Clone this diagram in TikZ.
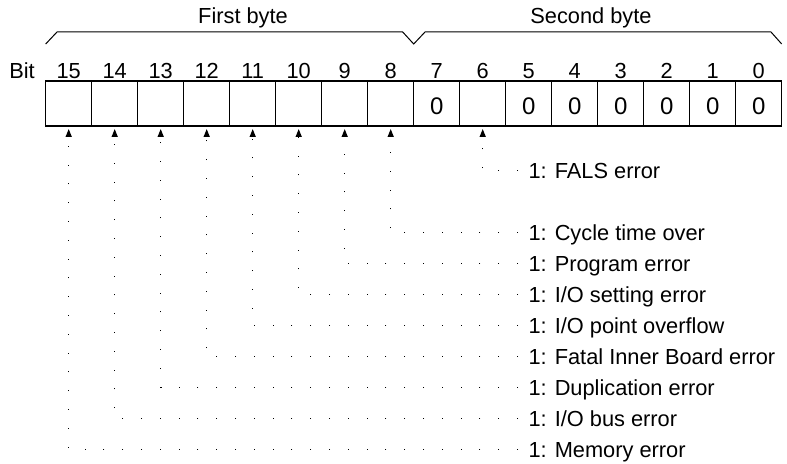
\documentclass[tikz,border=0pt]{standalone}
\usepackage{fontspec}
\setmainfont{Liberation Sans}
\usetikzlibrary{arrows.meta}

\begin{document}
\begin{tikzpicture}[x=.5pt,y=-.5pt,line width=.5pt,font=\fontsize{10.9}{13}\selectfont,
  bitbox/.style={draw,line width=.6pt,minimum width=23pt,minimum height=22.5pt,inner sep=0pt,font=\fontsize{12}{14}\selectfont,text height=11.4pt,text depth=0pt},
  num/.style={inner sep=0pt,text height=7.8pt,text depth=0pt},
  lbl/.style={anchor=west,inner xsep=5pt,inner ysep=0pt,text height=7.8pt,text depth=0pt},
  conn/.style={-{Triangle[length=4pt,width=3pt]},line width=.7pt,dash pattern=on .5pt off 8.9pt,shorten >=1.2pt}]
\useasboundingbox (0,0) rectangle (787,464);
\draw (45.7,44)--(57,32)--(402.7,32)--(413.7,44)--(425,32)--(771,32)--(781.7,44);
\node[num] (first) at (243,16) {First byte};
\node[num] (second) at (591,16) {Second byte};
\node[num] (bit) at (22,70.5) {Bit};
\node[num] (n15) at (68.7,70.5) {15};
\node[num] (n14) at (114.7,70.5) {14};
\node[num] (n13) at (160.7,70.5) {13};
\node[num] (n12) at (206.7,70.5) {12};
\node[num] (n11) at (252.7,70.5) {11};
\node[num] (n10) at (298.7,70.5) {10};
\node[num] (n9) at (344.7,70.5) {9};
\node[num] (n8) at (390.7,70.5) {8};
\node[num] (n7) at (436.7,70.5) {7};
\node[num] (n6) at (482.7,70.5) {6};
\node[num] (n5) at (528.7,70.5) {5};
\node[num] (n4) at (574.7,70.5) {4};
\node[num] (n3) at (620.7,70.5) {3};
\node[num] (n2) at (666.7,70.5) {2};
\node[num] (n1) at (712.7,70.5) {1};
\node[num] (n0) at (758.7,70.5) {0};
\node[bitbox] (b15) at (68.7,103.5) {};
\node[bitbox] (b14) at (114.7,103.5) {};
\node[bitbox] (b13) at (160.7,103.5) {};
\node[bitbox] (b12) at (206.7,103.5) {};
\node[bitbox] (b11) at (252.7,103.5) {};
\node[bitbox] (b10) at (298.7,103.5) {};
\node[bitbox] (b9) at (344.7,103.5) {};
\node[bitbox] (b8) at (390.7,103.5) {};
\node[bitbox] (b7) at (436.7,103.5) {0};
\node[bitbox] (b6) at (482.7,103.5) {};
\node[bitbox] (b5) at (528.7,103.5) {0};
\node[bitbox] (b4) at (574.7,103.5) {0};
\node[bitbox] (b3) at (620.7,103.5) {0};
\node[bitbox] (b2) at (666.7,103.5) {0};
\node[bitbox] (b1) at (712.7,103.5) {0};
\node[bitbox] (b0) at (758.7,103.5) {0};
\node[lbl] (e6) at (518,170.5) {1: FALS error};
\node[lbl] (e8) at (518,232.5) {1: Cycle time over};
\node[lbl] (e9) at (518,263.5) {1: Program error};
\node[lbl] (e10) at (518,294.5) {1: I/O setting error};
\node[lbl] (e11) at (518,325.5) {1: I/O point overflow};
\node[lbl] (e12) at (518,356.5) {1: Fatal Inner Board error};
\node[lbl] (e13) at (518,387.5) {1: Duplication error};
\node[lbl] (e14) at (518,418.5) {1: I/O bus error};
\node[lbl] (e15) at (518,449.5) {1: Memory error};
\draw[conn] (e6.west) -| (b6.south);
\draw[conn] (e8.west) -| (b8.south);
\draw[conn] (e9.west) -| (b9.south);
\draw[conn] (e10.west) -| (b10.south);
\draw[conn] (e11.west) -| (b11.south);
\draw[conn] (e12.west) -| (b12.south);
\draw[conn] (e13.west) -| (b13.south);
\draw[conn] (e14.west) -| (b14.south);
\draw[conn] (e15.west) -| (b15.south);
\end{tikzpicture}
\end{document}
